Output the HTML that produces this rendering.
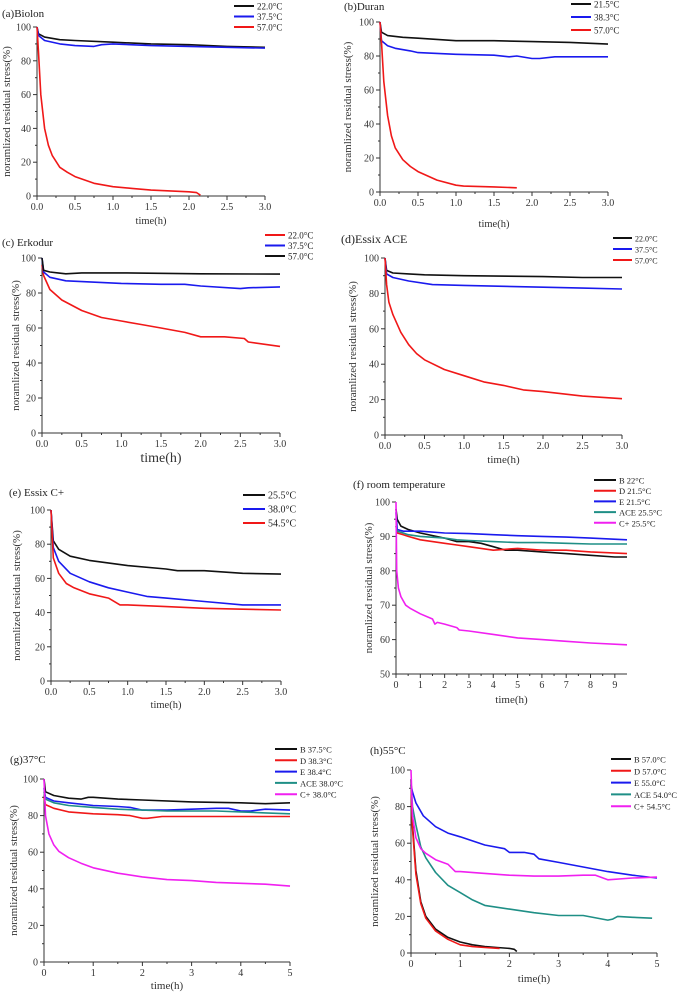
<!DOCTYPE html>
<html><head><meta charset="utf-8">
<style>
html,body{margin:0;padding:0;background:#fff;}
svg{display:block;font-family:"Liberation Serif",serif;}
</style></head>
<body>
<svg id="fig" width="682" height="992" viewBox="0 0 682 992"></svg>
<script>
// ---- data (time in h, value in % normalized residual stress) ----
const aBlackT=[0,0.02,0.1,0.3,0.5,1,1.5,2,2.5,3];
const aBlackV=[100,96,94,92.5,92,91,90,89.5,88.5,88];
const aBlueT=[0,0.02,0.1,0.3,0.5,0.75,0.85,1,1.5,2,2.5,3];
const aBlueV=[100,95,92,90,89,88.5,89.5,90,89,88.5,88,87.5];
const aRedT=[0,0.02,0.05,0.1,0.15,0.2,0.3,0.4,0.5,0.75,1,1.25,1.5,1.75,2,2.1,2.15];
const aRedV=[100,85,60,40,30,24,17,14,11.5,7.5,5.5,4.5,3.5,3,2.5,2,0.5];

const bBlackT=[0,0.02,0.1,0.3,0.5,1,1.5,2,2.5,3];
const bBlackV=[100,94,92,91,90.5,89,89,88.5,88,87];
const bBlueT=[0,0.02,0.1,0.2,0.4,0.5,1,1.5,1.7,1.8,2.0,2.1,2.3,3];
const bBlueV=[100,89,86,84.5,83,82,81,80.5,79.5,80,78.5,78.5,79.5,79.5];
const bRedT=[0,0.02,0.05,0.1,0.15,0.2,0.3,0.4,0.5,0.75,1,1.1,1.5,1.8];
const bRedV=[100,88,65,45,33,26,19,15,12,7,4,3.5,3,2.5];

const cRedT=[0,0.02,0.1,0.25,0.5,0.75,1,1.25,1.5,1.8,2.0,2.3,2.55,2.6,3];
const cRedV=[96,90,82,76,70,66,64,62,60,57.5,55,55,54,52,49.5];
const cBlueT=[0,0.02,0.1,0.3,0.5,1,1.5,1.8,2,2.5,2.6,3];
const cBlueV=[100,92,89,87,86.5,85.5,85,85,84,82.5,83,83.5];
const cBlackT=[0,0.02,0.1,0.2,0.3,0.5,1,2,3];
const cBlackV=[100,93,92,91.5,91,91.5,91.5,91,90.8];

const dBlackT=[0,0.02,0.1,0.3,0.5,1,2,2.5,3];
const dBlackV=[100,93,91.5,91,90.5,90,89.5,89,89];
const dBlueT=[0,0.02,0.1,0.3,0.6,1,1.5,2,2.5,3];
const dBlueV=[100,91,89,87,85,84.5,84,83.5,83,82.5];
const dRedT=[0,0.02,0.05,0.1,0.2,0.3,0.4,0.5,0.75,1,1.25,1.5,1.75,2,2.5,3];
const dRedV=[100,85,75,68,58,51,46,42.5,37,33.5,30,28,25.5,24.5,22,20.5];

const eBlackT=[0,0.03,0.1,0.25,0.5,1,1.5,1.65,2,2.5,3];
const eBlackV=[100,82,77,73,70.5,67.5,65.5,64.5,64.5,63,62.5];
const eBlueT=[0,0.03,0.1,0.25,0.5,0.75,1,1.25,1.5,2,2.5,3];
const eBlueV=[100,78,70,63,58,54.5,52,49.5,48.5,46.5,44.5,44.5];
const eRedT=[0,0.03,0.1,0.2,0.3,0.5,0.75,0.9,1,1.5,2,2.5,3];
const eRedV=[100,72,63,57,54.5,51,48.5,44.5,44.5,43.5,42.5,42,41.5];

const fBT=[0,0.05,0.2,0.5,1,2,2.5,3,3.5,4,4.5,5,6,7,8,9,9.5];
const fBV=[98,95,93,92,91,89.5,88.5,88.5,88,87,86,86,85.5,85,84.5,84,84];
const fDT=[0,0.05,0.3,0.5,1,2,2.5,3,4,5,6,7,8,9.5];
const fDV=[93,91,90.5,90,89,88,87.5,87,86,86.5,86,86,85.5,85];
const fET=[0,0.05,0.3,1,2,3,4,5,6,7,8,9.5];
const fEV=[97,92,91.5,91.5,91,90.8,90.5,90.2,90,89.8,89.5,89];
const fAceT=[0,0.05,0.3,0.5,1,2,2.5,3,4,5,6,7,8,9.5];
const fAceV=[93,91.5,91,90.5,90,89.5,89,88.8,88.5,88.2,88.2,88,87.8,87.8];
const fCT=[0,0.03,0.1,0.2,0.4,0.6,1,1.5,1.6,1.7,2,2.5,2.6,3,4,5,6,7,8,9.5];
const fCV=[100,80,75,72.5,70,69,67.5,66,64.5,65,64.5,63.5,62.8,62.5,61.5,60.5,60,59.5,59,58.5];

const gBT=[0,0.03,0.2,0.5,0.75,0.9,1,1.5,2,3,4,4.5,5];
const gBV=[100,93,91,89.5,89,90,90,89,88.5,87.5,87,86.5,87];
const gDT=[0,0.03,0.2,0.5,1,1.5,1.75,2,2.1,2.4,3,4,5];
const gDV=[90,86,84,82,81,80.5,80,78.5,78.5,79.5,79.5,79.5,79.5];
const gET=[0,0.03,0.2,0.5,1,1.5,1.75,2,2.5,3,3.5,3.75,4,4.2,4.5,5];
const gEV=[95,90,88,87,85.5,85,84.5,83,83,83.5,84,84,82.5,82.5,83.5,83];
const gAceT=[0,0.03,0.2,0.5,1,1.5,2,2.5,3,3.5,4,4.5,5];
const gAceV=[93,89,87,85.5,84.5,83.5,83,82.5,82.5,82.5,82,81.5,81];
const gCT=[0,0.03,0.1,0.2,0.3,0.5,0.75,1,1.5,2,2.5,3,3.5,4,4.5,5];
const gCV=[100,80,70,64,60.5,57,54,51.5,48.5,46.5,45,44.5,43.5,43,42.5,41.5];

const hBT=[0,0.03,0.1,0.2,0.3,0.5,0.75,1,1.25,1.5,1.75,2,2.1,2.15];
const hBV=[95,70,45,28,20,13,8.5,6,4.5,3.5,3,2.5,2,0.8];
const hDT=[0,0.03,0.1,0.2,0.3,0.5,0.75,1,1.25,1.5,1.8];
const hDV=[92,68,43,27,19,12,7.5,4.5,3.5,3,2.5];
const hET=[0,0.03,0.1,0.25,0.5,0.75,1,1.5,1.9,2,2.3,2.5,2.6,3,3.5,4,4.5,5];
const hEV=[92,88,82,75,69,65.5,63.5,59,57,55,55,54,51.5,49.5,47,44.5,42.5,41];
const hAceT=[0,0.03,0.1,0.2,0.3,0.5,0.75,1,1.25,1.5,2,2.5,3,3.5,4,4.1,4.2,4.5,4.9];
const hAceV=[92,80,70,58,52,44,37,33,29,26,24,22,20.5,20.5,18,18.5,20,19.5,19];
const hCT=[0,0.03,0.1,0.2,0.3,0.5,0.75,0.9,1,1.5,2,2.5,3,3.5,3.75,4,4.5,5];
const hCV=[100,75,63,57,54.5,51,48.5,44.5,44.5,43.5,42.5,42,42,42.5,42.5,40,41,41.5];

const xTicks3=[0,0.5,1,1.5,2,2.5,3];
const yTicks100=[0,20,40,60,80,100];
const xTicks95=[0,1,2,3,4,5,6,7,8,9];
const yTicksF=[50,60,70,80,90,100];
const xTicks5=[0,1,2,3,4,5];

const BLK='#111', RED='#f01818', BLU='#1a1aee', TEAL='#1f8f86', MAG='#f020f0';
const NS='http://www.w3.org/2000/svg';
const fig=document.getElementById('fig');
function mk(tag,attrs,parent){const e=document.createElementNS(NS,tag);for(const k in attrs)e.setAttribute(k,attrs[k]);(parent||fig).appendChild(e);return e;}

function panel(p){
  const g=mk('g',{});
  
  
  const sx=v=>p.x0+(v-p.xmin)/(p.xmax-p.xmin)*(p.x1-p.x0);
  const sy=v=>p.y0+(v-p.ymin)/(p.ymax-p.ymin)*(p.y1-p.y0);
  // axes
  const ax=mk('path',{d:`M${p.x0},${p.y1} L${p.x0},${p.y0} L${p.x1},${p.y0}`,fill:'none',stroke:'#333','stroke-width':1},g);
  
  
  p.xt.forEach((t,i)=>{
    const x=sx(t);
    mk('line',{x1:x,x2:x,y1:p.y0,y2:p.y0+4,stroke:'#333'},g);
    if(i<p.xt.length-1){const xm=sx((t+p.xt[i+1])/2);mk('line',{x1:xm,x2:xm,y1:p.y0,y2:p.y0+2,stroke:'#333'},g);}
    const tx=mk('text',{x:x,y:p.y0+14,'font-size':p.tfs||10,'text-anchor':'middle',fill:'#333'},g);
    tx.textContent=p.xdec?t.toFixed(1):String(t);
    
    
  });
  p.yt.forEach((t,i)=>{
    const y=sy(t);
    mk('line',{x1:p.x0-4,x2:p.x0,y1:y,y2:y,stroke:'#333'},g);
    if(i<p.yt.length-1){const ym=sy((t+p.yt[i+1])/2);mk('line',{x1:p.x0-2,x2:p.x0,y1:ym,y2:ym,stroke:'#333'},g);}
    const tx=mk('text',{x:p.x0-6,y:y+3.5,'font-size':p.tfs||10,'text-anchor':'end',fill:'#333'},g);
    tx.textContent=String(t);
    
    
  });
  // series
  p.series.forEach((s,i)=>{
    const d=s.t.map((t,j)=>(j?'L':'M')+sx(t).toFixed(1)+','+sy(s.v[j]).toFixed(1)).join(' ');
    const pl=mk('path',{d:d,fill:'none',stroke:s.c,'stroke-width':1.6,'stroke-linejoin':'round'},g);
    
    
    const ly=p.leg.y+i*p.leg.dy;
    const ll=mk('line',{x1:p.leg.x,x2:p.leg.x+p.leg.w,y1:ly,y2:ly,stroke:s.c,'stroke-width':2},g);
    
    
    const lt=mk('text',{x:p.leg.x+p.leg.w+3,y:ly+3.5,'font-size':p.leg.fs||9,fill:'#222'},g);
    lt.textContent=s.label;
    
    
  });
  const ti=mk('text',{x:p.title[0],y:p.title[1],'font-size':p.titleFs||11,fill:'#222'},g);
  ti.textContent=p.title[2];
  
  
  const xl=mk('text',{x:(p.x0+p.x1)/2,y:p.xl[0],'font-size':p.xl[1],'text-anchor':'middle',fill:'#333'},g);
  xl.textContent='time(h)';
  
  
  const yc=(p.y0+p.y1)/2;
  const yl=mk('text',{x:p.yl,y:yc,'font-size':11,'text-anchor':'middle',fill:'#333',transform:`rotate(-90 ${p.yl} ${yc})`},g);
  yl.textContent='noramlized residual stress(%)';
  
  
}

panel({name:'panel-a-biolon',x0:37,x1:265,y0:196,y1:27,xmin:0,xmax:3,ymin:0,ymax:100,xt:xTicks3,yt:yTicks100,xdec:true,
  title:[2,17,'(a)Biolon'],xl:[224,10.5],yl:10,leg:{x:234,y:6,dy:10.5,w:20},
  series:[{key:'22c',t:aBlackT,v:aBlackV,c:BLK,label:'22.0°C'},{key:'37-5c',t:aBlueT,v:aBlueV,c:BLU,label:'37.5°C'},{key:'57c',t:aRedT,v:aRedV,c:RED,label:'57.0°C'}]});
panel({name:'panel-b-duran',x0:380,x1:608,y0:192,y1:22,xmin:0,xmax:3,ymin:0,ymax:100,xt:xTicks3,yt:yTicks100,xdec:true,
  title:[344,10,'(b)Duran'],xl:[227,10.5],yl:351,leg:{x:571,y:4,dy:13,w:20},
  series:[{key:'21-5c',t:bBlackT,v:bBlackV,c:BLK,label:'21.5°C'},{key:'38-3c',t:bBlueT,v:bBlueV,c:BLU,label:'38.3°C'},{key:'57c',t:bRedT,v:bRedV,c:RED,label:'57.0°C'}]});
panel({name:'panel-c-erkodur',x0:42,x1:280,y0:433,y1:258,xmin:0,xmax:3,ymin:0,ymax:100,xt:xTicks3,yt:yTicks100,xdec:true,
  title:[2,246,'(c) Erkodur'],xl:[462,14],yl:19,leg:{x:265,y:235,dy:10.5,w:20},
  series:[{key:'22c',t:cRedT,v:cRedV,c:RED,label:'22.0°C'},{key:'37-5c',t:cBlueT,v:cBlueV,c:BLU,label:'37.5°C'},{key:'57c',t:cBlackT,v:cBlackV,c:BLK,label:'57.0°C'}]});
panel({name:'panel-d-essix-ace',x0:385,x1:622,y0:435,y1:258,xmin:0,xmax:3,ymin:0,ymax:100,xt:xTicks3,yt:yTicks100,xdec:true,
  title:[341,243,'(d)Essix ACE'],titleFs:12,xl:[463,11],yl:356,leg:{x:613,y:238,dy:11,w:19,fs:8},
  series:[{key:'22c',t:dBlackT,v:dBlackV,c:BLK,label:'22.0°C'},{key:'37-5c',t:dBlueT,v:dBlueV,c:BLU,label:'37.5°C'},{key:'57c',t:dRedT,v:dRedV,c:RED,label:'57.0°C'}]});
panel({name:'panel-e-essix-c-plus',x0:51,x1:281,y0:681,y1:510,xmin:0,xmax:3,ymin:0,ymax:100,xt:xTicks3,yt:yTicks100,xdec:true,
  title:[9,496,'(e) Essix C+'],xl:[708,10.5],yl:20,leg:{x:243,y:495,dy:14,w:22,fs:10},
  series:[{key:'25-5c',t:eBlackT,v:eBlackV,c:BLK,label:'25.5°C'},{key:'38c',t:eBlueT,v:eBlueV,c:BLU,label:'38.0°C'},{key:'54-5c',t:eRedT,v:eRedV,c:RED,label:'54.5°C'}]});
panel({name:'panel-f-room-temperature',x0:396,x1:627,y0:674,y1:502,xmin:0,xmax:9.5,ymin:50,ymax:100,xt:xTicks95,yt:yTicksF,xdec:false,
  title:[353,488,'(f) room temperature'],xl:[703,11],yl:372,leg:{x:594,y:480,dy:10.7,w:22,fs:8.5},
  series:[{key:'b',t:fBT,v:fBV,c:BLK,label:'B 22°C'},{key:'d',t:fDT,v:fDV,c:RED,label:'D 21.5°C'},{key:'e',t:fET,v:fEV,c:BLU,label:'E 21.5°C'},{key:'ace',t:fAceT,v:fAceV,c:TEAL,label:'ACE 25.5°C'},{key:'c-plus',t:fCT,v:fCV,c:MAG,label:'C+ 25.5°C'}]});
panel({name:'panel-g-37c',x0:44,x1:290,y0:962,y1:779,xmin:0,xmax:5,ymin:0,ymax:100,xt:xTicks5,yt:yTicks100,xdec:false,
  title:[10,763,'(g)37°C'],xl:[989,11],yl:17,leg:{x:275,y:749,dy:11.3,w:22,fs:8.5},
  series:[{key:'b',t:gBT,v:gBV,c:BLK,label:'B 37.5°C'},{key:'d',t:gDT,v:gDV,c:RED,label:'D 38.3°C'},{key:'e',t:gET,v:gEV,c:BLU,label:'E 38.4°C'},{key:'ace',t:gAceT,v:gAceV,c:TEAL,label:'ACE 38.0°C'},{key:'c-plus',t:gCT,v:gCV,c:MAG,label:'C+ 38.0°C'}]});
panel({name:'panel-h-55c',x0:411,x1:657,y0:953,y1:770,xmin:0,xmax:5,ymin:0,ymax:100,xt:xTicks5,yt:yTicks100,xdec:false,
  title:[370,754,'(h)55°C'],xl:[982,11],yl:378,leg:{x:611,y:759,dy:11.8,w:20,fs:8.5},
  series:[{key:'b',t:hBT,v:hBV,c:BLK,label:'B 57.0°C'},{key:'d',t:hDT,v:hDV,c:RED,label:'D 57.0°C'},{key:'e',t:hET,v:hEV,c:BLU,label:'E 55.0°C'},{key:'ace',t:hAceT,v:hAceV,c:TEAL,label:'ACE 54.0°C'},{key:'c-plus',t:hCT,v:hCV,c:MAG,label:'C+ 54.5°C'}]});
</script>
</body></html>
